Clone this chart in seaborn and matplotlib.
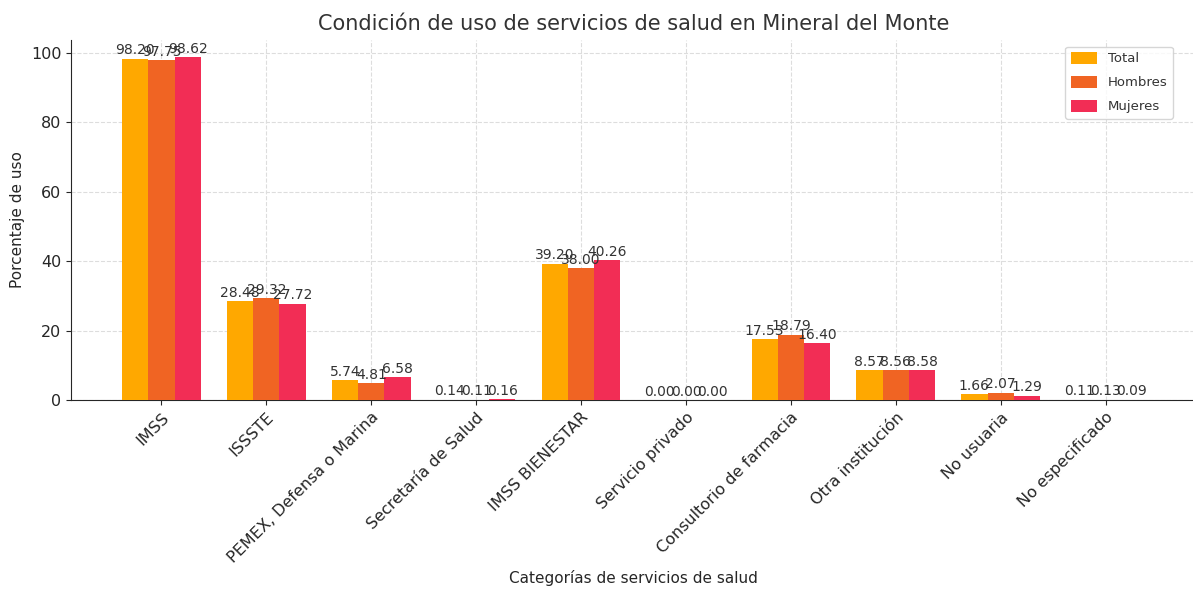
import pandas as pd
import seaborn as sns
import matplotlib.pyplot as plt

categorias = ['IMSS', 'ISSSTE', 'PEMEX, Defensa o Marina', 'Secretaría de Salud',
              'IMSS BIENESTAR', 'Servicio privado', 'Consultorio de farmacia',
              'Otra institución', 'No usuaria', 'No especificado']
total = [98.20, 28.48, 5.74, 0.14, 39.20, 0.00, 17.53, 8.57, 1.66, 0.11]
hombres = [97.75, 29.32, 4.81, 0.11, 38.00, 0.00, 18.79, 8.56, 2.07, 0.13]
mujeres = [98.62, 27.72, 6.58, 0.16, 40.26, 0.00, 16.40, 8.58, 1.29, 0.09]
series = ['Total', 'Hombres', 'Mujeres']
colores = ['#FFA800', '#F06423', '#F22D55']

df = pd.DataFrame({'Categoria': categorias * 3,
                   'Grupo': [s for s in series for _ in categorias],
                   'Porcentaje': total + hombres + mujeres})

sns.set_style('ticks')
plt.rcParams['font.family'] = ['DejaVu Sans']
plt.rcParams['text.color'] = '#333333'

fig = plt.figure(figsize=(11.93, 5.92), dpi=100)
ax = fig.add_axes([71 / 1193, 1 - 400 / 592, 1125 / 1193, 360 / 592])

sns.barplot(data=df, x='Categoria', y='Porcentaje', hue='Grupo', palette=colores,
            width=0.75, saturation=1, linewidth=0, ax=ax, zorder=3)

for cont in ax.containers:
    ax.bar_label(cont, fmt='%.2f', fontsize=10, color='#333333', padding=1, zorder=4)

ax.grid(True, linestyle='--', color='#dddddd', linewidth=0.8, zorder=0)
ax.set_axisbelow(True)
ax.set_xlim(-0.8625, 9.8625)
ax.set_ylim(0, 103.6)
ax.set_title('Condición de uso de servicios de salud en Mineral del Monte', fontsize=15, pad=7)
ax.set_xlabel('Categorías de servicios de salud', fontsize=11, labelpad=3)
ax.set_ylabel('Porcentaje de uso', fontsize=11)
plt.setp(ax.get_xticklabels(), rotation=45, ha='right', rotation_mode='anchor', fontsize=11.5)
ax.tick_params(axis='y', labelsize=11.5)
ax.legend(loc='upper right', fontsize=9.5, frameon=True, title=None,
          labelspacing=0.8, handleheight=1.0, bbox_to_anchor=(0.985, 1.0))
sns.despine(ax=ax, top=True, right=True)

fig.savefig('out.png', dpi=100)
